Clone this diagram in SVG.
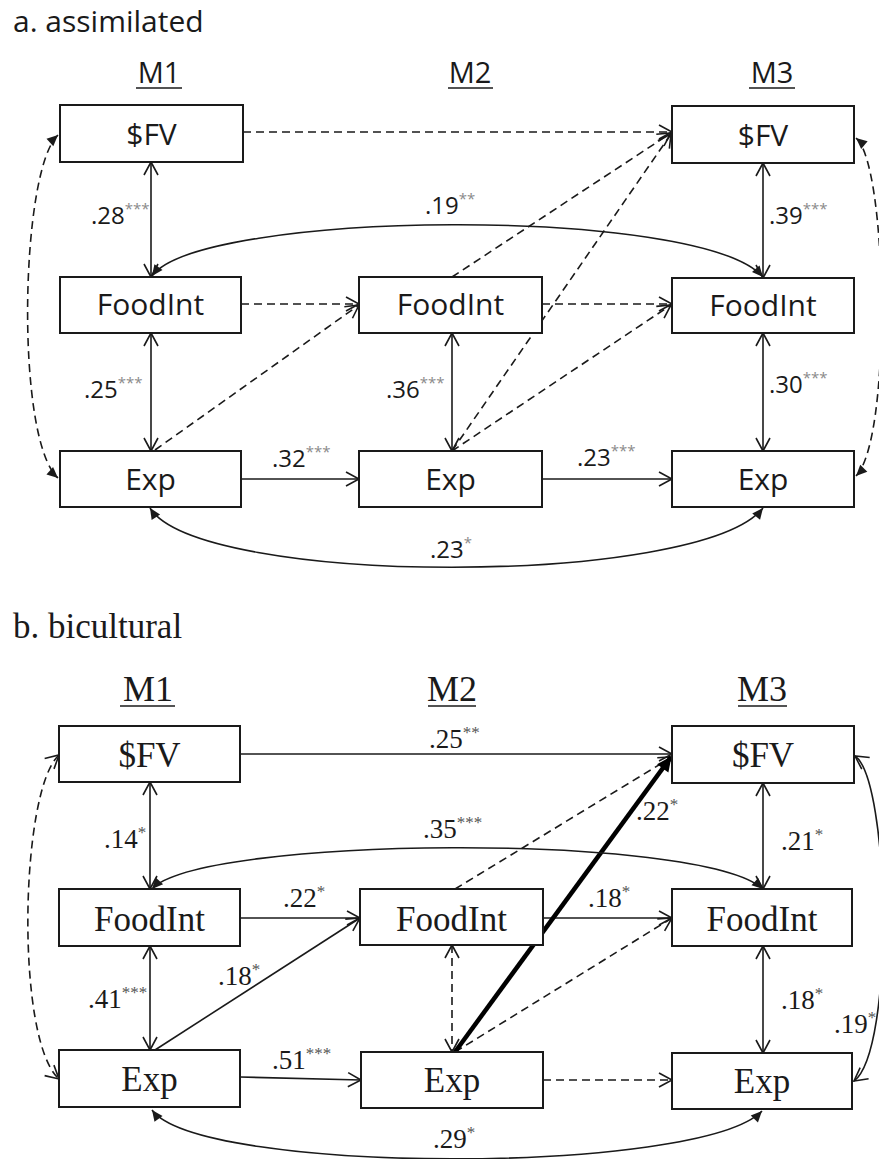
<svg xmlns="http://www.w3.org/2000/svg" width="879" height="1159" viewBox="0 0 879 1159">
<style>
.box{fill:#fff;stroke:#1a1a1a;stroke-width:2}
.sa{font-family:"Open Sans","Liberation Sans",sans-serif;fill:#1a1a1a}
.sb{font-family:"Liberation Serif","Times New Roman",serif;fill:#1a1a1a}
.nt{font-size:30px;text-anchor:middle}
.nb{font-size:35px;text-anchor:middle}
.la{font-size:24px}
.lb{font-size:27px}
.supa{font-size:15px;fill:#8a8a8a}
.supb{font-size:17px;fill:#555555}
.ln{fill:none;stroke:#1a1a1a;stroke-width:1.6}
.dash{stroke-dasharray:8,5}
.thick{fill:none;stroke:#000;stroke-width:4.5}
.ul{stroke:#1a1a1a;stroke-width:1.6}
</style>
<defs>
<marker id="open" viewBox="-2 -2 17 17" refX="13" refY="7" markerWidth="17" markerHeight="17" markerUnits="userSpaceOnUse" orient="auto-start-reverse" overflow="visible">
<path d="M0,0 L13,7 L0,14" fill="none" stroke="#1a1a1a" stroke-width="1.6"/>
</marker>
<marker id="fill" viewBox="0 0 12 10" refX="11" refY="5" markerWidth="12" markerHeight="10" markerUnits="userSpaceOnUse" orient="auto-start-reverse" overflow="visible">
<path d="M0,0 L11,5 L0,10 z" fill="#1a1a1a"/>
</marker>
<marker id="thickm" viewBox="0 0 16 14" refX="14" refY="7" markerWidth="16" markerHeight="14" markerUnits="userSpaceOnUse" orient="auto" overflow="visible">
<path d="M0,0 L15,7 L0,14 z" fill="#000"/>
</marker>
</defs>

<g id="titles">
<text class="sa" x="13" y="32" font-size="30">a. assimilated</text>
<text class="sb" x="13" y="638" font-size="35">b. bicultural</text>
</g>

<g id="wave-labels">
<text class="sa" x="159" y="83" font-size="29" text-anchor="middle">M1</text>
<line class="ul" x1="136" y1="88" x2="182" y2="88"/>
<text class="sa" x="470" y="83" font-size="29" text-anchor="middle">M2</text>
<line class="ul" x1="448" y1="88" x2="493" y2="88"/>
<text class="sa" x="772" y="83" font-size="29" text-anchor="middle">M3</text>
<line class="ul" x1="749" y1="88" x2="795" y2="88"/>
<text class="sb" x="148" y="701" font-size="36" text-anchor="middle">M1</text>
<line class="ul" x1="120" y1="706" x2="175" y2="706"/>
<text class="sb" x="452" y="701" font-size="36" text-anchor="middle">M2</text>
<line class="ul" x1="428" y1="706" x2="476" y2="706"/>
<text class="sb" x="762" y="701" font-size="36" text-anchor="middle">M3</text>
<line class="ul" x1="738" y1="706" x2="787" y2="706"/>
</g>

<g id="connectors">
<line class="ln" x1="151" y1="162" x2="151" y2="277" marker-start="url(#open)" marker-end="url(#open)"/>
<line class="ln" x1="151" y1="333" x2="151" y2="451" marker-start="url(#open)" marker-end="url(#open)"/>
<line class="ln" x1="452" y1="333" x2="452" y2="451" marker-start="url(#open)" marker-end="url(#open)"/>
<line class="ln" x1="763" y1="163" x2="763" y2="278" marker-start="url(#open)" marker-end="url(#open)"/>
<line class="ln" x1="763" y1="333" x2="763" y2="451" marker-start="url(#open)" marker-end="url(#open)"/>
<line class="ln" x1="241" y1="479" x2="359" y2="479" marker-end="url(#open)"/>
<line class="ln" x1="542" y1="479" x2="672" y2="479" marker-end="url(#open)"/>
<line class="ln dash" x1="243" y1="132" x2="672" y2="132" marker-end="url(#open)"/>
<line class="ln dash" x1="241" y1="304" x2="359" y2="304" marker-end="url(#open)"/>
<line class="ln dash" x1="542" y1="304" x2="672" y2="304" marker-end="url(#open)"/>
<line class="ln dash" x1="155" y1="450" x2="359" y2="305" marker-end="url(#open)"/>
<line class="ln dash" x1="452" y1="277" x2="671" y2="133" marker-end="url(#open)"/>
<line class="ln dash" x1="452" y1="451" x2="671" y2="134" marker-end="url(#open)"/>
<line class="ln dash" x1="452" y1="451" x2="671" y2="305" marker-end="url(#open)"/>
<path class="ln" d="M152,276 C200,210 700,205 763,277" marker-start="url(#fill)" marker-end="url(#fill)"/>
<path class="ln" d="M150,508 C200,587 700,587 763,508" marker-start="url(#fill)" marker-end="url(#fill)"/>
<path class="ln dash" d="M58,135 C20,170 15,440 58,478" marker-start="url(#fill)" marker-end="url(#fill)"/>
<path class="ln dash" d="M856,138 C888,165 892,440 856,476" marker-start="url(#fill)" marker-end="url(#fill)"/>
<line class="ln" x1="150" y1="782" x2="150" y2="889" marker-start="url(#open)" marker-end="url(#open)"/>
<line class="ln" x1="150" y1="946" x2="150" y2="1050" marker-start="url(#open)" marker-end="url(#open)"/>
<line class="ln dash" x1="452" y1="945" x2="452" y2="1052" marker-start="url(#open)" marker-end="url(#open)"/>
<line class="ln" x1="763" y1="783" x2="763" y2="889" marker-start="url(#open)" marker-end="url(#open)"/>
<line class="ln" x1="763" y1="946" x2="763" y2="1053" marker-start="url(#open)" marker-end="url(#open)"/>
<line class="ln" x1="240" y1="754" x2="672" y2="754" marker-end="url(#open)"/>
<line class="ln" x1="240" y1="918" x2="360" y2="918" marker-end="url(#open)"/>
<line class="ln" x1="155" y1="1050" x2="360" y2="918" marker-end="url(#open)"/>
<line class="ln" x1="543" y1="918" x2="672" y2="918" marker-end="url(#open)"/>
<line class="ln" x1="240" y1="1077" x2="361" y2="1080" marker-end="url(#open)"/>
<line class="ln dash" x1="543" y1="1080" x2="672" y2="1080" marker-end="url(#open)"/>
<line class="ln dash" x1="455" y1="889" x2="672" y2="757" marker-end="url(#open)"/>
<line class="ln dash" x1="455" y1="1052" x2="672" y2="918" marker-end="url(#open)"/>
<line class="thick" x1="455" y1="1052" x2="671" y2="757" marker-end="url(#thickm)"/>
<path class="ln" d="M152,889 C200,836 700,832 763,889" marker-start="url(#fill)" marker-end="url(#fill)"/>
<path class="ln" d="M152,1110 C200,1175 700,1175 762,1111" marker-start="url(#fill)" marker-end="url(#fill)"/>
<path class="ln dash" d="M59,755 C20,790 15,1040 59,1079" marker-start="url(#open)" marker-end="url(#open)"/>
<path class="ln" d="M855,756 C890,780 895,1050 854,1081" marker-start="url(#open)" marker-end="url(#open)"/>
</g>

<g id="a-m1-fv"><rect class="box" x="60" y="105" width="183" height="57"/><text class="sa nt" x="151.5" y="145">$FV</text></g>
<g id="a-m1-foodint"><rect class="box" x="60" y="277" width="181" height="56"/><text class="sa nt" x="150.5" y="315">FoodInt</text></g>
<g id="a-m1-exp"><rect class="box" x="60" y="451" width="181" height="56"/><text class="sa nt" x="150.5" y="490">Exp</text></g>
<g id="a-m2-foodint"><rect class="box" x="359" y="277" width="183" height="56"/><text class="sa nt" x="450.5" y="315">FoodInt</text></g>
<g id="a-m2-exp"><rect class="box" x="359" y="451" width="183" height="56"/><text class="sa nt" x="450.5" y="490">Exp</text></g>
<g id="a-m3-fv"><rect class="box" x="672" y="106" width="182" height="57"/><text class="sa nt" x="763" y="146">$FV</text></g>
<g id="a-m3-foodint"><rect class="box" x="672" y="278" width="182" height="55"/><text class="sa nt" x="763" y="316">FoodInt</text></g>
<g id="a-m3-exp"><rect class="box" x="672" y="451" width="182" height="56"/><text class="sa nt" x="763" y="490">Exp</text></g>

<g id="b-m1-fv"><rect class="box" x="59" y="726" width="181" height="56"/><text class="sb nb" x="149.5" y="767">$FV</text></g>
<g id="b-m1-foodint"><rect class="box" x="59" y="889" width="181" height="57"/><text class="sb nb" x="149.5" y="931">FoodInt</text></g>
<g id="b-m1-exp"><rect class="box" x="59" y="1050" width="181" height="57"/><text class="sb nb" x="149.5" y="1091">Exp</text></g>
<g id="b-m2-foodint"><rect class="box" x="360" y="889" width="183" height="56"/><text class="sb nb" x="451.5" y="931">FoodInt</text></g>
<g id="b-m2-exp"><rect class="box" x="361" y="1052" width="182" height="56"/><text class="sb nb" x="452" y="1092">Exp</text></g>
<g id="b-m3-fv"><rect class="box" x="672" y="726" width="182" height="57"/><text class="sb nb" x="763" y="767">$FV</text></g>
<g id="b-m3-foodint"><rect class="box" x="672" y="889" width="180" height="57"/><text class="sb nb" x="762" y="931">FoodInt</text></g>
<g id="b-m3-exp"><rect class="box" x="672" y="1053" width="180" height="56"/><text class="sb nb" x="762" y="1093">Exp</text></g>

<g id="labels-a">
<text class="sa la" x="91" y="224">.28<tspan class="supa" dy="-10">***</tspan></text>
<text class="sa la" x="425" y="214">.19<tspan class="supa" dy="-10">**</tspan></text>
<text class="sa la" x="769" y="224">.39<tspan class="supa" dy="-10">***</tspan></text>
<text class="sa la" x="84" y="398">.25<tspan class="supa" dy="-10">***</tspan></text>
<text class="sa la" x="386" y="398">.36<tspan class="supa" dy="-10">***</tspan></text>
<text class="sa la" x="769" y="393">.30<tspan class="supa" dy="-10">***</tspan></text>
<text class="sa la" x="272" y="467">.32<tspan class="supa" dy="-10">***</tspan></text>
<text class="sa la" x="577" y="466">.23<tspan class="supa" dy="-10">***</tspan></text>
<text class="sa la" x="430" y="558">.23<tspan class="supa" dy="-10">*</tspan></text>
</g>

<g id="labels-b">
<text class="sb lb" x="429" y="748">.25<tspan class="supb" dy="-10">**</tspan></text>
<text class="sb lb" x="104" y="848">.14<tspan class="supb" dy="-10">*</tspan></text>
<text class="sb lb" x="423" y="838">.35<tspan class="supb" dy="-10">***</tspan></text>
<text class="sb lb" x="636" y="820">.22<tspan class="supb" dy="-10">*</tspan></text>
<text class="sb lb" x="781" y="850">.21<tspan class="supb" dy="-10">*</tspan></text>
<text class="sb lb" x="283" y="907">.22<tspan class="supb" dy="-10">*</tspan></text>
<text class="sb lb" x="588" y="907">.18<tspan class="supb" dy="-10">*</tspan></text>
<text class="sb lb" x="218" y="985">.18<tspan class="supb" dy="-10">*</tspan></text>
<text class="sb lb" x="88" y="1008">.41<tspan class="supb" dy="-10">***</tspan></text>
<text class="sb lb" x="781" y="1009">.18<tspan class="supb" dy="-10">*</tspan></text>
<text class="sb lb" x="834" y="1033">.19<tspan class="supb" dy="-10">*</tspan></text>
<text class="sb lb" x="272" y="1069">.51<tspan class="supb" dy="-10">***</tspan></text>
<text class="sb lb" x="433" y="1148">.29<tspan class="supb" dy="-10">*</tspan></text>
</g>
</svg>
